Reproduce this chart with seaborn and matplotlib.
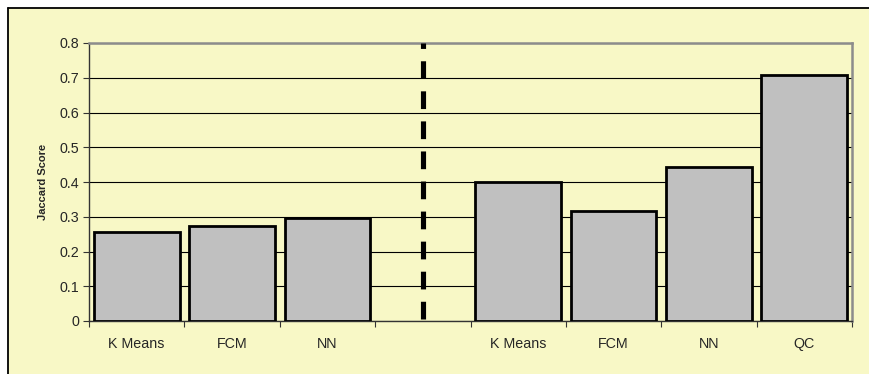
import numpy as np
import pandas as pd
import matplotlib
matplotlib.use("Agg")
import matplotlib.pyplot as plt
from matplotlib.lines import Line2D
from matplotlib.patches import Rectangle
from matplotlib.ticker import FixedLocator
import seaborn as sns

# Jaccard scores per method; the empty slot separates the two groups
labels = ["K Means", "FCM", "NN", "", "K Means", "FCM", "NN", "QC"]
scores = [0.257, 0.272, 0.296, np.nan, 0.399, 0.316, 0.442, 0.707]
y_ticks = [0.0, 0.1, 0.2, 0.3, 0.4, 0.5, 0.6, 0.7, 0.8]
y_tick_labels = ["0", "0.1", "0.2", "0.3", "0.4", "0.5", "0.6", "0.7", "0.8"]
y_title = "Jaccard Score"

sns.set_theme(style="white")
plt.rcParams["font.family"] = ["Liberation Sans", "DejaVu Sans"]

bg = "#F8F8C6"
W, H = 870, 374
slots = list(range(len(labels)))
df = pd.DataFrame({"slot": slots, "score": scores})

fig = plt.figure(figsize=(W / 100, H / 100), dpi=100, facecolor="white")

# chart area panel with a frame along its top and left edges
x0, y0 = 8 / W, 1 - 8 / H
fig.add_artist(Rectangle((x0, 0), 1 - x0, y0, transform=fig.transFigure,
                         facecolor=bg, edgecolor="none", zorder=0))
fig.add_artist(Line2D([x0, x0], [0, y0], color="black", linewidth=1.3,
                      transform=fig.transFigure, zorder=1))
fig.add_artist(Line2D([x0, 1], [y0, y0], color="black", linewidth=1.3,
                      transform=fig.transFigure, zorder=1))

ax = fig.add_axes([89 / W, 1 - 321 / H, (852 - 89) / W, (321 - 43) / H])
ax.set_facecolor(bg)

sns.barplot(data=df, x="slot", y="score", order=slots, color="#C0C0C0",
            saturation=1, width=0.9, edgecolor="black", linewidth=2.0,
            ax=ax, zorder=3)

ax.set_xlim(-0.5, len(labels) - 0.5)
ax.set_ylim(0, 0.8)
ax.yaxis.set_major_locator(FixedLocator(y_ticks))
ax.set_yticklabels(y_tick_labels, fontsize=10.3)
ax.yaxis.grid(True, color="black", linewidth=0.8, zorder=0)
ax.set_axisbelow(True)

ax.set_xticks(slots)
ax.set_xticklabels(labels, fontsize=10.3)
ax.xaxis.set_minor_locator(FixedLocator(np.arange(-0.5, len(labels), 1.0)))
ax.tick_params(axis="x", which="major", length=0, pad=11.5)
ax.tick_params(axis="x", which="minor", direction="out", length=4,
               width=0.8, color="#333333", bottom=True)
ax.tick_params(axis="y", which="major", direction="out", length=4,
               width=0.8, color="#333333", left=True, pad=3)

ax.set_xlabel("")
ax.set_ylabel(y_title, fontsize=8, fontweight="bold", labelpad=8)

for side in ("top", "right"):
    ax.spines[side].set_color("#8C8C8C")
    ax.spines[side].set_linewidth(1.8)
ax.spines["left"].set_color("#333333")
ax.spines["left"].set_linewidth(1.0)
ax.spines["bottom"].set_color("#333333")
ax.spines["bottom"].set_linewidth(1.0)

# group separator in the empty slot, dashed from the baseline upward
ax.plot([3, 3], [0.006, 0.8], color="black", linewidth=3.7,
        linestyle=(0, (3.45, 2.4)), solid_capstyle="butt",
        dash_capstyle="butt", zorder=4, clip_on=False)

fig.savefig("out.png", dpi=100, facecolor="white")
